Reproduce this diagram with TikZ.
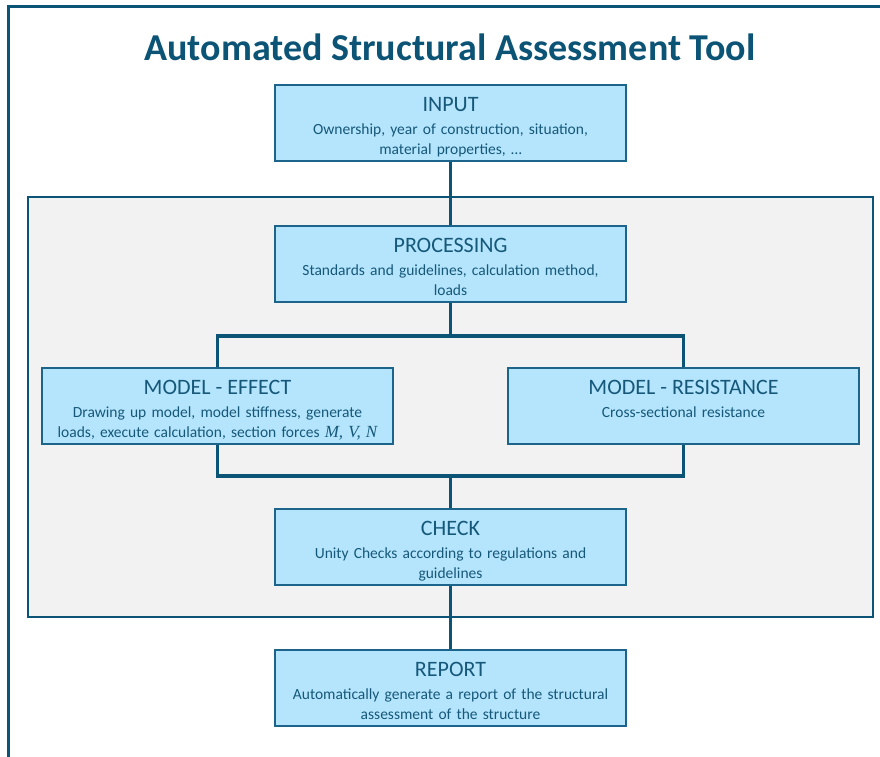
\documentclass[tikz,border=0pt]{standalone}
\usepackage{fontspec}
\setmainfont{Carlito}
\newfontfamily\formfont{Liberation Serif}
\usepackage{tikz}
\usetikzlibrary{positioning}

\definecolor{frame}{RGB}{12,84,118}
\definecolor{boxfill}{RGB}{180,229,252}
\definecolor{boxline}{RGB}{28,100,138}
\definecolor{txt}{RGB}{22,88,122}
\definecolor{panel}{RGB}{242,242,242}

\tikzset{
  stage/.style={draw=boxline, fill=boxfill, line width=1.5, minimum width=351, minimum height=76, inner sep=0},
  head/.style={text=txt, font=\fontsize{22}{26}\selectfont, anchor=base, inner sep=0},
  body/.style={text=txt, font=\fontsize{15.5}{20}\selectfont, text width=349, align=center, anchor=base, inner sep=0},
  link/.style={draw=frame, line width=3.5},
}

\begin{document}
\begin{tikzpicture}[x=1pt, y=-1pt]
  \useasboundingbox (0,0) rectangle (880,756);
  \clip (0,0) rectangle (880,756);
  \fill[white] (0,0) rectangle (880,756);

  % outer frame and grey panel
  \draw[frame, line width=2.7] (8.5,6.8) rectangle (920,800);
  \draw[frame, line width=2.7, fill=panel] (28,197) rectangle (873,617);

  \node[text=frame, font=\fontsize{38}{46}\selectfont\bfseries, anchor=base] (title) at (450,60) {Automated Structural Assessment Tool};

  % boxes
  \node[stage] (input) at (450.5,123) {};
  \node[head] (inputhead) at ([yshift=-27]input.north) {INPUT};
  \node[body] (inputbody) at ([yshift=-50]input.north) {Ownership, year of construction, situation,\\material properties, \dots};

  \node[stage] (proc) at (450.5,264) {};
  \node[head] (prochead) at ([yshift=-27]proc.north) {PROCESSING};
  \node[body] (procbody) at ([yshift=-50]proc.north) {Standards and guidelines, calculation method,\\loads};

  \node[stage] (effect) at (217.5,406) {};
  \node[head] (effecthead) at ([yshift=-27]effect.north) {MODEL - EFFECT};
  \node[body] (effectbody) at ([yshift=-50]effect.north) {Drawing up model, model stiffness, generate\\loads, execute calculation, section forces {\formfont\itshape\fontsize{17}{20}\selectfont M, V, N}};

  \node[stage] (resist) at (683.5,406) {};
  \node[head] (resisthead) at ([yshift=-27]resist.north) {MODEL - RESISTANCE};
  \node[body] (resistbody) at ([yshift=-50]resist.north) {Cross-sectional resistance};

  \node[stage] (check) at (450.5,547) {};
  \node[head] (checkhead) at ([yshift=-27]check.north) {CHECK};
  \node[body] (checkbody) at ([yshift=-50]check.north) {Unity Checks according to regulations and\\guidelines};

  \node[stage] (report) at (450.5,688) {};
  \node[head] (reporthead) at ([yshift=-27]report.north) {REPORT};
  \node[body] (reportbody) at ([yshift=-50]report.north) {Automatically generate a report of the structural\\assessment of the structure};

  % connectors
  \coordinate (split) at (450.5,336);
  \coordinate (merge) at (450.5,476);
  \draw[link] (input) -- (proc);
  \draw[link] (proc) -- (split);
  \draw[link] (effect.north) |- (split) -| (resist.north);
  \draw[link] (effect.south) |- (merge) -| (resist.south);
  \draw[link] (merge) -- (check);
  \draw[link] (check) -- (report);
\end{tikzpicture}
\end{document}
